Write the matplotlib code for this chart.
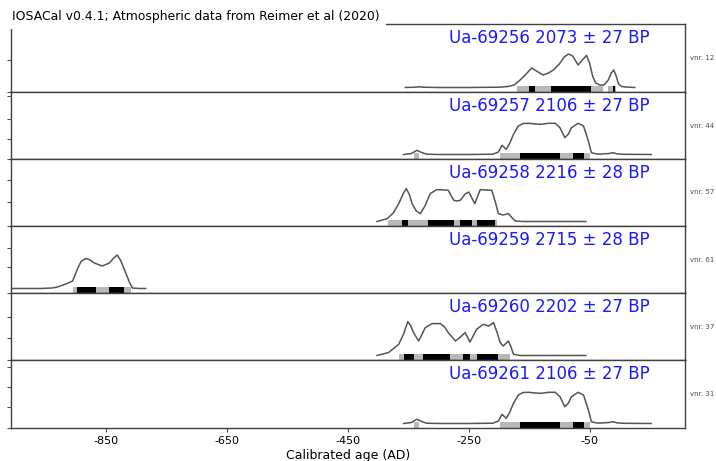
import matplotlib
matplotlib.use("Agg")
import matplotlib.pyplot as plt

# Sample identifiers, radiocarbon ages and side annotations
sample_ids = ["Ua-69256", "Ua-69257", "Ua-69258", "Ua-69259", "Ua-69260", "Ua-69261"]
bp_ages = [2073, 2106, 2216, 2715, 2202, 2106]
bp_errors = [27, 27, 28, 28, 27, 27]
side_labels = ["vnr. 12", "vnr. 44", "vnr. 57", "vnr. 61", "vnr. 37", "vnr. 31"]

# Calibrated probability curves (year AD, relative probability)
years_69256 = [-355, -340, -333, -325, -300, -250, -200, -185, -175, -165, -155, -146, -138,
               -127, -118, -110, -100, -92, -85, -78, -69, -62, -55, -50, -45, -40, -33,
               -26, -19, -14, -10, -6, -2, 3, 10, 25]
prob_69256 = [0.5, 0.8, 1.2, 0.8, 0.5, 0.5, 0.8, 1.5, 3, 8, 14, 20, 17,
              13, 15, 18, 24, 31, 34, 32, 23, 28, 32.6, 25, 12, 5, 3,
              3, 8, 15, 18, 12, 4, 1.5, 1, 0.5]

years_69257 = [-358, -345, -336, -328, -320, -300, -250, -210, -201, -195, -188, -182, -176,
               -168, -160, -150, -140, -130, -118, -107, -99, -91, -85, -80, -69, -60,
               -52, -47, -38, -31, -18, -11, -5, 5, 52]
prob_69257 = [0.5, 1.5, 4.7, 2.5, 0.8, 0.5, 0.5, 0.8, 3, 9.7, 5.7, 12, 20.7,
              29, 31.5, 31.7, 31, 30.7, 31.7, 31.7, 27.3, 17.3, 21, 27.3, 31.7, 29,
              14, 2.3, 1, 1, 1.5, 2.3, 1.2, 0.7, 0.5]

years_69258 = [-402, -385, -375, -366, -358, -353.5, -348, -344, -337, -330, -322, -314,
               -303, -290, -284, -275, -270, -264, -256, -250, -245, -240, -231, -222,
               -212, -206, -201, -193, -184.5, -178, -173, -160, -56]
prob_69258 = [0.5, 3.4, 9, 18.4, 29, 33.4, 27, 18.4, 11, 8.4, 16.7, 28.4,
              32.4, 32, 31.7, 21.7, 21, 21.7, 28, 30, 24, 18.4, 32.4, 32,
              31.7, 20, 8.4, 7, 8.4, 4, 1, 0.5, 0.5]

years_69259 = [-1006, -960, -940, -931, -917, -906, -898, -892, -884, -877, -870, -857,
               -845, -838, -832, -826, -818, -812, -807, -795, -785]
prob_69259 = [0.5, 0.5, 1, 2, 5, 8, 20, 27.6, 30.5, 29, 26, 23,
              26, 31, 34, 28, 16, 7, 1, 0.5, 0.5]

years_69260 = [-402, -383, -366, -358, -351, -346, -341.5, -333, -322, -311, -297, -290,
               -284, -272, -264, -256, -248, -237, -226, -217, -209, -204, -198, -193,
               -184.5, -180, -176, -165, -56]
prob_69260 = [0.5, 3.4, 11.7, 22, 34.4, 30, 23.4, 15, 28.4, 32.4, 32.4, 29,
              23.4, 15, 19, 23.4, 14, 26.7, 31.7, 30, 33.4, 25, 13.4, 10,
              15, 9, 1.7, 0.5, 0.5]

years_69261 = list(years_69257)
prob_69261 = list(prob_69257)

curve_years = [years_69256, years_69257, years_69258, years_69259, years_69260, years_69261]
curve_probs = [prob_69256, prob_69257, prob_69258, prob_69259, prob_69260, prob_69261]

# Highest posterior density ranges (year AD): 95.4 % and 68.2 %
hpd95 = [
    [(-171, -27), (-19, -6)],
    [(-340, -332), (-198, -49)],
    [(-383, -204)],
    [(-906, -810)],
    [(-366, -182)],
    [(-340, -332), (-198, -49)],
]
hpd68 = [
    [(-151, -140), (-114, -47), (-11, -8)],
    [(-165, -99), (-77, -60)],
    [(-361, -350), (-317, -275), (-264, -245), (-237, -207)],
    [(-898, -867), (-846, -821)],
    [(-358, -341), (-325, -281), (-259, -248), (-237, -201)],
    [(-165, -99), (-77, -60)],
]

x_ticks = [-850, -650, -450, -250, -50]

W, H = 716, 461
fig = plt.figure(figsize=(W / 100, H / 100), dpi=100)

edges = [24, 92, 159, 226, 293, 360, 428]
left, right = 11, 685
yticks = [[-4, 28, 60], [-4, 16, 36, 59], [-4, 20, 42], [-4, 22, 41],
          [-4, 18, 39], [-4, 17, 37, 57]]

n = len(sample_ids)
for i in range(n):
    top, bot = edges[i], edges[i + 1]
    ax = fig.add_axes([left / W, 1 - bot / H, (right - left) / W, (bot - top) / H])
    ax.set_xlim(-1008, 108)
    ax.set_ylim(-4, (bot - top) - 4)

    for a, b in hpd95[i]:
        ax.axvspan(a, b, ymin=0.0, ymax=0.09, facecolor="0.72", edgecolor="none", zorder=1)
    for a, b in hpd68[i]:
        ax.axvspan(a, b, ymin=0.0, ymax=0.09, facecolor="black", edgecolor="none", zorder=1.5)

    ax.plot(curve_years[i], curve_probs[i], color="#555555", lw=1.1, zorder=2)

    ax.text(0.948, 0.72, f"{sample_ids[i]} {bp_ages[i]} \u00b1 {bp_errors[i]} BP",
            transform=ax.transAxes, ha="right", va="baseline", color="#1a1aff", fontsize=12)
    ax.text(1.008, 0.5, side_labels[i], transform=ax.transAxes, ha="left", va="center",
            fontsize=5, color="0.3", clip_on=False)

    ax.set_yticks(yticks[i])
    ax.set_yticklabels([])
    ax.tick_params(axis="y", length=3, width=0.8, color="0.3")
    for s in ax.spines.values():
        s.set_color("0.25")
        s.set_linewidth(1.0)

    if i < n - 1:
        ax.set_xticks([])
    else:
        ax.set_xticks(x_ticks)
        ax.set_xticklabels([str(t) for t in x_ticks], fontsize=8)
        ax.tick_params(axis="x", length=3, width=0.8, color="0.3", pad=3)
        ax.set_xlabel("Calibrated age (AD)", fontsize=9, labelpad=2)

fig.text(12 / W, 1 - 20 / H, "IOSACal v0.4.1; Atmospheric data from Reimer et al (2020)",
         fontsize=8.9, ha="left", va="baseline", zorder=10,
         bbox=dict(facecolor="white", edgecolor="none", pad=4.5))

fig.savefig("out.png", dpi=100)
